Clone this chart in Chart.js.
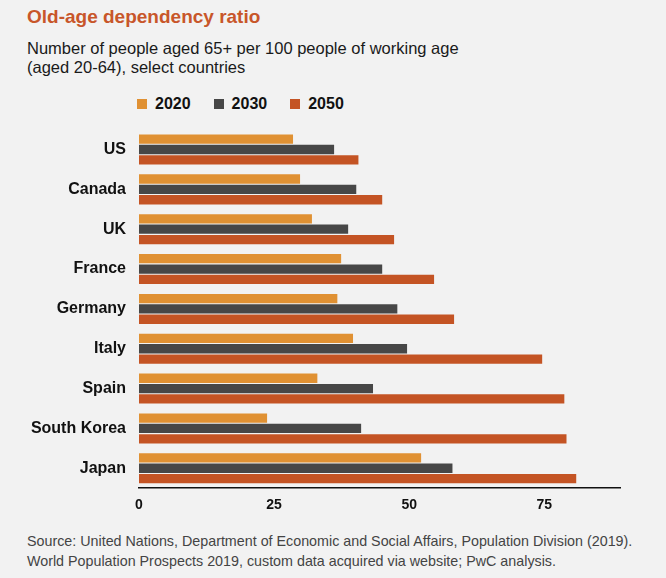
<!DOCTYPE html>
<html>
<head>
<meta charset="utf-8">
<script src="https://cdn.jsdelivr.net/npm/chart.js@4/dist/chart.umd.min.js"></script>
<style>
  body { margin: 0; background: #f2f2f2; font-family: "Liberation Sans", Arial, sans-serif; }
  #wrap { position: relative; width: 666px; height: 578px; overflow: hidden; }
  #title { position: absolute; left: 27px; top: 6px; font-size: 19px; font-weight: bold; color: #c8562a; }
  #sub { position: absolute; left: 27px; top: 39px; font-size: 16.5px; line-height: 19px; color: #1a1a1a; }
  #legend { position: absolute; left: 137px; top: 95px; display: flex; gap: 23px; font-size: 16px; font-weight: bold; color: #111; }
  #legend .item { display: flex; align-items: center; }
  #legend .box { width: 10px; height: 10px; margin-right: 8px; }
  #box { position: absolute; left: 0; top: 107px; width: 666px; height: 424px; }
  #source { position: absolute; left: 27px; top: 531px; font-size: 14.3px; line-height: 20px; color: #444; }
</style>
</head>
<body>
<div id="wrap">
  <div id="title">Old-age dependency ratio</div>
  <div id="sub">Number of people aged 65+ per 100 people of working age<br>(aged 20-64), select countries</div>
  <div id="legend"></div>
  <div id="box"><canvas id="chart"></canvas></div>
  <div id="source">Source: United Nations, Department of Economic and Social Affairs, Population Division (2019).<br>World Population Prospects 2019, custom data acquired via website; PwC analysis.</div>
</div>
<script>
const countries = ["US", "Canada", "UK", "France", "Germany", "Italy", "Spain", "South Korea", "Japan"];
const years = ["2020", "2030", "2050"];
const ratio2020 = [28.5, 29.8, 32.0, 37.4, 36.7, 39.6, 33.0, 23.7, 52.2];
const ratio2030 = [36.1, 40.2, 38.7, 45.0, 47.8, 49.6, 43.3, 41.1, 58.0];
const ratio2050 = [40.6, 45.0, 47.2, 54.6, 58.3, 74.6, 78.7, 79.1, 80.9];
const xTicks = [0, 25, 50, 75];
const colors = ["#e09133", "#474747", "#c45424"];

const series = [ratio2020, ratio2030, ratio2050];

// legend
const legend = document.getElementById("legend");
years.forEach((y, i) => {
  legend.innerHTML += `<div class="item"><span class="box" style="background:${colors[i]}"></span>${y}</div>`;
});

new Chart(document.getElementById("chart"), {
  type: "bar",
  data: {
    labels: countries,
    datasets: years.map((y, i) => ({
      label: y,
      data: series[i],
      backgroundColor: colors[i],
      categoryPercentage: 0.78,
      barPercentage: 0.9
    }))
  },
  options: {
    indexAxis: "y",
    responsive: true,
    maintainAspectRatio: false,
    animation: false,
    layout: { padding: { top: 9, right: 46, bottom: 8, left: 0 } },
    plugins: { legend: { display: false }, tooltip: { enabled: false } },
    scales: {
      x: {
        min: 0,
        max: 89,
        afterBuildTicks: s => { s.ticks = xTicks.map(v => ({ value: v })); },
        grid: { display: false, drawTicks: false },
        border: { display: true, color: "#111", width: 1.5 },
        ticks: { padding: 9, color: "#111", font: { family: "Liberation Sans", size: 14, weight: "bold" } }
      },
      y: {
        afterFit: s => { s.width = 139; },
        grid: { display: false, drawTicks: false },
        border: { display: false },
        ticks: { padding: 13, color: "#111", font: { family: "Liberation Sans", size: 16, weight: "bold" } }
      }
    }
  }
});
</script>
</body>
</html>
